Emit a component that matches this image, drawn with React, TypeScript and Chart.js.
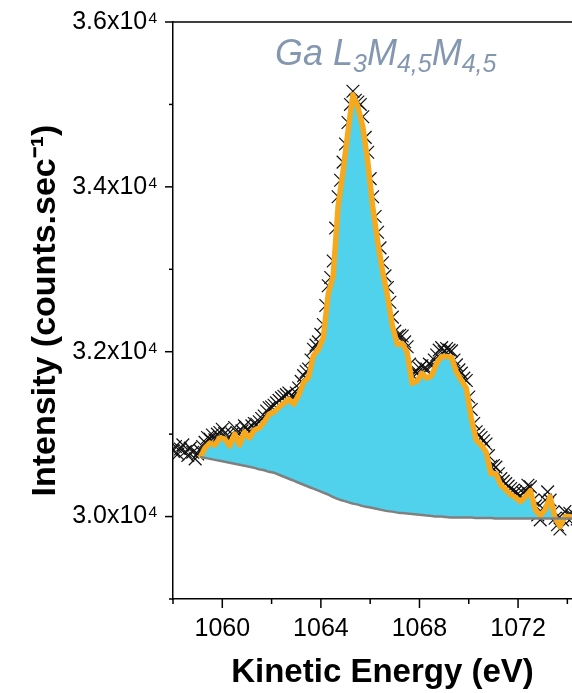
import React, { useEffect, useRef } from 'react';
import { Chart, registerables } from 'chart.js';

Chart.register(...registerables);

const FONT = "'Liberation Sans', Arial, sans-serif";

// Axis ranges and ticks (the frame's right side lies just outside the 572px view)
const X_MIN = 1058;
const X_MAX = 1075;
const Y_MIN = 29000;
const Y_MAX = 36000;
const xTickValues = [1058, 1060, 1062, 1064, 1066, 1068, 1070, 1072, 1074];
const xLabeledTicks = [1060, 1064, 1068, 1072];
const yTickValues = [29000, 30000, 31000, 32000, 33000, 34000, 35000, 36000];
const yLabeledTicks = [30000, 32000, 34000, 36000];

// Raw data (× markers), 0.1 eV step starting at 1058.0
const rawStart = 1058.0;
const rawStep = 0.1;
const rawCounts = [
  30800, 30850, 30760, 30820, 30870, 30790, 30740, 30830, 30780, 30700,
  30760, 30800, 30850, 30900, 30960, 30940, 30990, 30930, 31000, 31020,
  31060, 31010, 30950, 30920, 31000, 31080, 31020, 30950, 31040, 31100,
  31060, 31030, 31100, 31130, 31120, 31150, 31190, 31220, 31280, 31320,
  31330, 31350, 31380, 31410, 31440, 31460, 31480, 31500, 31470, 31450,
  31500, 31560, 31640, 31710, 31760, 31790, 31900, 32030, 32080, 32120,
  32210, 32330, 32560, 32800, 32900, 33100, 33500, 33880, 34080, 34300,
  34520, 34780, 35000, 35160, 35050, 35030, 35000, 34850, 34600, 34420,
  34100, 33880, 33640, 33450, 33260, 33080, 32920, 32780, 32600, 32420,
  32250, 32190, 32200, 32190, 32120, 32060, 31850, 31720, 31760, 31740,
  31800, 31830, 31800, 31790, 31850, 31830, 31900, 31960, 32020, 32050,
  32000, 32040, 32020, 32010, 31900, 31840, 31780, 31740, 31680, 31650,
  31450, 31300, 31130, 31030, 30990, 30960, 30920, 30880, 30740, 30610,
  30620, 30600, 30520, 30460, 30430, 30400, 30370, 30340, 30320, 30300,
  30280, 30250, 30290, 30320, 30380, 30360, 30200, 30130, 30020, 29960,
  30100, 30200, 30300, 30200, 30050, 29980, 29900, 29850, 29960, 30060,
  29980, 30040, 29990, 30020, 29970, 30010, 29980, 30030, 29990, 30000,
];

// Smoothed envelope (orange) and Shirley background (grey), 0.2 eV step from 1059.1
const fitStart = 1059.1;
const fitStep = 0.2;
const envelopeCounts = [
  30712, 30833, 30893, 30869, 30954, 30941, 30857, 31002, 30869, 31026,
  30954, 31050, 31074, 31147, 31243, 31267, 31328, 31376, 31424, 31364,
  31473, 31629, 31690, 31955, 32028, 32173, 32704, 32921, 33766, 34188,
  34671, 35118, 34973, 34731, 34309, 33766, 33343, 32981, 32680, 32317,
  32088, 32100, 31992, 31617, 31642, 31738, 31678, 31714, 31859, 31943,
  31943, 31931, 31750, 31654, 31557, 31195, 30929, 30869, 30785, 30519,
  30519, 30386, 30326, 30266, 30229, 30181, 30241, 30314, 30084, 30012,
  30084, 30241, 29988, 29879, 30000, 30000, 29988, 30010, 29990, 30000,
];
const backgroundCounts = [
  30724, 30712, 30700, 30688, 30676, 30664, 30652, 30640, 30628, 30616,
  30604, 30591, 30573, 30561, 30543, 30531, 30507, 30483, 30459, 30435,
  30410, 30386, 30362, 30338, 30314, 30290, 30266, 30235, 30211, 30193,
  30175, 30157, 30145, 30127, 30115, 30103, 30091, 30078, 30066, 30060,
  30048, 30042, 30036, 30030, 30024, 30018, 30012, 30006, 30000, 30000,
  29994, 29988, 29988, 29988, 29988, 29988, 29982, 29982, 29982, 29982,
  29976, 29976, 29976, 29976, 29976, 29976, 29976, 29976, 29976, 29976,
  29976, 29976, 29976, 29976, 29976, 29976, 29976, 29976, 29976, 29976,
];

const TITLE_PARTS: { text: string; sub: boolean }[] = [
  { text: 'Ga L', sub: false },
  { text: '3', sub: true },
  { text: 'M', sub: false },
  { text: '4,5', sub: true },
  { text: 'M', sub: false },
  { text: '4,5', sub: true },
];

const COLORS = {
  envelope: '#F7A91D',
  fill: '#50D2EC',
  background: '#808080',
  marker: '#111111',
  title: '#8497B0',
};

const energyAt = (start: number, step: number, i: number) =>
  Math.round((start + step * i) * 100) / 100;

const decorPlugin = {
  id: 'decor',
  afterDraw(chart: any) {
    const { ctx, chartArea, scales } = chart;
    const xs = scales.x;
    const ys = scales.y;
    ctx.save();
    ctx.strokeStyle = '#000';
    ctx.lineWidth = 1.5;
    // top and right frame lines
    ctx.beginPath();
    ctx.moveTo(chartArea.left - 0.75, chartArea.top);
    ctx.lineTo(chartArea.right, chartArea.top);
    ctx.lineTo(chartArea.right, chartArea.bottom);
    ctx.stroke();
    // x ticks
    xTickValues.forEach((v) => {
      const px = xs.getPixelForValue(v);
      const len = xLabeledTicks.includes(v) ? 9 : 5;
      ctx.beginPath();
      ctx.moveTo(px, chartArea.bottom);
      ctx.lineTo(px, chartArea.bottom + len);
      ctx.stroke();
    });
    // y ticks
    yTickValues.forEach((v) => {
      const py = ys.getPixelForValue(v);
      const len = yLabeledTicks.includes(v) ? 8 : 4;
      ctx.beginPath();
      ctx.moveTo(chartArea.left, py);
      ctx.lineTo(chartArea.left - len, py);
      ctx.stroke();
    });
    // annotation title
    let x = 275;
    const base = 65;
    ctx.fillStyle = COLORS.title;
    ctx.textBaseline = 'alphabetic';
    ctx.textAlign = 'left';
    TITLE_PARTS.forEach((p) => {
      ctx.font = p.sub ? `italic 25px ${FONT}` : `italic 36px ${FONT}`;
      ctx.fillText(p.text, x, p.sub ? base + 7 : base);
      x += ctx.measureText(p.text).width;
    });
    ctx.restore();
  },
};

export default function App() {
  const ref = useRef<HTMLCanvasElement | null>(null);

  useEffect(() => {
    if (!ref.current) return;
    const rawData = rawCounts.map((y, i) => ({ x: energyAt(rawStart, rawStep, i), y }));
    const envData = envelopeCounts.map((y, i) => ({ x: energyAt(fitStart, fitStep, i), y }));
    const bgData = backgroundCounts.map((y, i) => ({ x: energyAt(fitStart, fitStep, i), y }));

    const chart = new Chart(ref.current, {
      type: 'scatter',
      data: {
        datasets: [
          {
            label: 'raw',
            data: rawData,
            showLine: false,
            pointStyle: 'crossRot',
            pointRadius: 9,
            pointBorderWidth: 1.2,
            borderColor: COLORS.marker,
            backgroundColor: COLORS.marker,
            order: 3,
          },
          {
            label: 'envelope',
            data: envData,
            showLine: true,
            borderColor: COLORS.envelope,
            borderWidth: 5.5,
            borderJoinStyle: 'round',
            pointRadius: 0,
            tension: 0,
            fill: { target: 2, above: COLORS.fill, below: 'rgba(0,0,0,0)' },
            backgroundColor: COLORS.fill,
            order: 2,
          },
          {
            label: 'background',
            data: bgData,
            showLine: true,
            borderColor: COLORS.background,
            borderWidth: 2.5,
            pointRadius: 0,
            tension: 0.3,
            fill: false,
            order: 1,
          },
        ],
      } as any,
      options: {
        responsive: false,
        animation: false,
        devicePixelRatio: 1,
        layout: { autoPadding: false, padding: { top: 20, left: 0, right: 0, bottom: 0 } },
        plugins: {
          legend: { display: false },
          tooltip: { enabled: false },
        },
        scales: {
          x: {
            type: 'linear',
            min: X_MIN,
            max: X_MAX,
            afterBuildTicks: (scale: any) => {
              scale.ticks = xTickValues.map((v) => ({ value: v }));
            },
            afterFit: (scale: any) => {
              scale.height = 94;
            },
            ticks: {
              autoSkip: false,
              maxRotation: 0,
              minRotation: 0,
              padding: 6,
              color: '#000',
              font: { family: FONT, size: 25 },
              callback: (v: any) => (xLabeledTicks.includes(Number(v)) ? String(v) : ''),
            },
            grid: {
              display: true,
              drawOnChartArea: false,
              drawTicks: true,
              tickLength: 9,
              color: 'rgba(0,0,0,0)',
            },
            border: { display: true, color: '#000', width: 1.5 },
            title: {
              display: true,
              text: 'Kinetic Energy (eV)',
              color: '#000',
              font: { family: FONT, size: 33, weight: 'bold' },
              padding: { top: 0, bottom: 0 },
            },
          },
          y: {
            type: 'linear',
            min: Y_MIN,
            max: Y_MAX,
            afterBuildTicks: (scale: any) => {
              scale.ticks = yTickValues.map((v) => ({ value: v }));
            },
            afterFit: (scale: any) => {
              scale.width = 173;
            },
            ticks: {
              autoSkip: false,
              padding: 7,
              color: '#000',
              font: { family: FONT, size: 25 },
              callback: (v: any) =>
                yLabeledTicks.includes(Number(v)) ? `${(Number(v) / 10000).toFixed(1)}x10\u2074` : '',
            },
            grid: {
              display: true,
              drawOnChartArea: false,
              drawTicks: true,
              tickLength: 8,
              color: 'rgba(0,0,0,0)',
            },
            border: { display: true, color: '#000', width: 1.5 },
            title: {
              display: true,
              text: 'Intensity (counts.sec\u207B\u00B9)',
              color: '#000',
              font: { family: FONT, size: 34, weight: 'bold' },
              padding: { top: 25, bottom: 0 },
            },
          },
        },
      } as any,
      plugins: [decorPlugin],
    });
    return () => chart.destroy();
  }, []);

  return (
    <div
      style={{
        position: 'absolute',
        left: 0,
        top: 0,
        width: 572,
        height: 693,
        overflow: 'hidden',
        background: '#fff',
      }}
    >
      <canvas ref={ref} width={592} height={693} style={{ display: 'block' }} />
    </div>
  );
}
